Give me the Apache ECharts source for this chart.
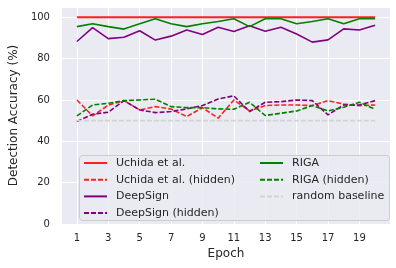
<!DOCTYPE html>
<html><head><meta charset="utf-8">
<script src="https://cdn.jsdelivr.net/npm/echarts@6/dist/echarts.min.js"></script>
<style>html,body{margin:0;padding:0;background:#fff}#c{width:396px;height:268px}</style>
</head><body><div id="c"></div>
<script>
const epochs = [1,2,3,4,5,6,7,8,9,10,11,12,13,14,15,16,17,18,19,20];
const xTicks = [1,3,5,7,9,11,13,15,17,19];
const yTicks = [0,20,40,60,80,100];
const uchida = [100,100,100,100,100,100,100,100,100,100,100,100,100,100,100,100,100,100,100,100];
const uchidaHidden = [60,52.3,57.5,59.7,55.2,56.8,55.6,52,56.3,51.2,60,54.7,57.3,57.6,57.6,57.3,59.7,58,57.3,57.6];
const deepSign = [88.3,95,89.7,90.4,93.5,89,90.9,93.9,91.7,95.2,93.1,95.9,93.3,95.2,91.9,88,89.1,94.4,93.9,96.2];
const deepSignHidden = [49.6,53.1,54.1,59.7,55.2,53.9,54.4,55.7,57.3,60.5,62,54.4,58.9,59.2,60,59.7,52.8,57.6,57.6,59.7];
const riga = [95.5,96.9,95.5,94.3,96.9,99.3,96.9,95.5,96.9,98,99.3,95.5,99.3,99.3,96.9,98,99.3,96.9,99.3,99.3];
const rigaHidden = [52.3,57.6,58.4,59.7,60,60.4,56.8,56.3,56.3,55.7,55.5,58.9,52.5,53.6,54.7,57.3,54.7,56.5,58.9,55.5];
const baseline = [50,50,50,50,50,50,50,50,50,50,50,50,50,50,50,50,50,50,50,50];

const pair = arr => epochs.map((e,i)=>[e,arr[i]]);
const dash = [5,2];
function mk(name, arr, color, type, width){
  return {name, type:'line', data:pair(arr), symbol:'none', z:2,
    lineStyle:{color, width, type}, itemStyle:{color}, emphasis:{disabled:true}};
}
const series = [
  mk('Uchida et al.', uchida, '#ff2020', 'solid', 2),
  mk('Uchida et al. (hidden)', uchidaHidden, '#ff2020', dash, 1.6),
  mk('DeepSign', deepSign, '#800080', 'solid', 1.6),
  mk('DeepSign (hidden)', deepSignHidden, '#800080', dash, 1.6),
  mk('RIGA', riga, '#008000', 'solid', 1.6),
  mk('RIGA (hidden)', rigaHidden, '#008000', dash, 1.6),
  mk('random baseline', baseline, '#d3d3d3', dash, 1.6)
];
// vertical grid lines at tick positions
series.push({type:'line', data:[], silent:true, z:1,
  markLine:{symbol:'none', silent:true, z:1, label:{show:false}, animation:false,
    lineStyle:{color:'#ffffff', width:1, type:'solid'},
    data: xTicks.map(v=>({xAxis:v}))}});

const txt = '#262626';
const legendCommon = {orient:'vertical', itemWidth:23, itemHeight:10, itemGap:5.7, z:6, padding:0,
  itemStyle:{opacity:0},
  textStyle:{fontFamily:'DejaVu Sans', fontSize:11, color:txt, padding:[0,0,0,4]}, selectedMode:false};
const chart = echarts.init(document.getElementById('c'), null, {renderer:'canvas'});
chart.setOption({
  animation:false,
  backgroundColor:'#ffffff',
  grid:{left:56, right:6, top:7, bottom:44, show:true, backgroundColor:'#EAEAF2', borderWidth:0},
  xAxis:{type:'value', min:0.05, max:20.95,
    name:'Epoch', nameLocation:'middle', nameGap:23,
    nameTextStyle:{fontFamily:'DejaVu Sans', fontSize:12, color:txt},
    axisLine:{show:false}, axisTick:{show:false, customValues:xTicks},
    axisLabel:{customValues:xTicks, fontFamily:'DejaVu Sans', fontSize:10, color:txt, margin:9},
    splitLine:{show:false}},
  yAxis:{type:'value', min:0, max:105, interval:20,
    name:'Detection Accuracy (%)', nameLocation:'middle', nameGap:38,
    nameTextStyle:{fontFamily:'DejaVu Sans', fontSize:12, color:txt},
    axisLine:{show:false}, axisTick:{show:false},
    axisLabel:{customValues:yTicks, fontFamily:'DejaVu Sans', fontSize:10, color:txt, margin:12},
    splitLine:{show:true, lineStyle:{color:'#ffffff', width:1}}},
  graphic:[{type:'rect', z:5, shape:{x:79.5, y:155.5, width:310, height:65, r:3},
    style:{fill:'rgba(234,234,242,0.85)', stroke:'#cccccc', lineWidth:1}}],
  legend:[
    Object.assign({left:83, top:157.5, data:['Uchida et al.','Uchida et al. (hidden)','DeepSign','DeepSign (hidden)']}, legendCommon),
    Object.assign({left:259, top:157.5, data:['RIGA','RIGA (hidden)','random baseline']}, legendCommon)
  ],
  series
});
</script></body></html>
